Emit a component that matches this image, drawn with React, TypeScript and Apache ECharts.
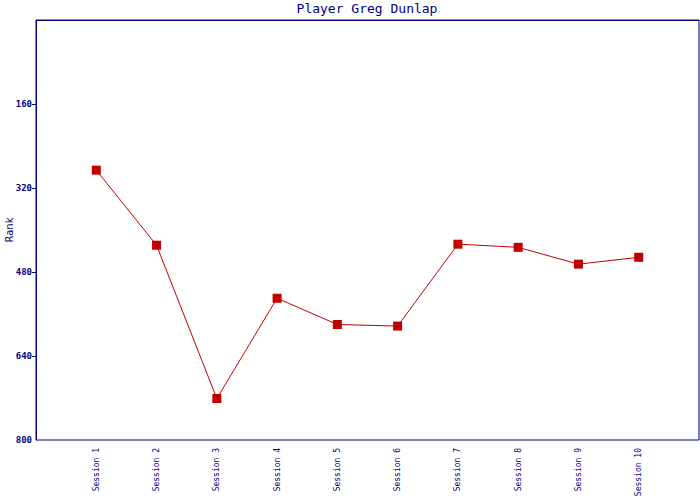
import React, { useEffect, useRef } from "react";
import * as echarts from "echarts";

const sessions = ["Session 1", "Session 2", "Session 3", "Session 4", "Session 5", "Session 6", "Session 7", "Session 8", "Session 9", "Session 10"];
const ranks = [286, 429, 721, 530, 580, 583, 427, 433, 465, 452];
const tickValues = [160, 320, 480, 640];
const labelValues = [160, 320, 480, 640, 800];
const titleText = "Player Greg Dunlap";
const yName = "Rank";

const NAVY = "#000080";

export default function App() {
  const ref = useRef<HTMLDivElement>(null);
  useEffect(() => {
    document.body.style.margin = "0";
    const chart = echarts.init(ref.current!, null, { renderer: "svg" });
    const cats = ["", ...sessions, ""];
    const data = [null, ...ranks, null];
    chart.setOption({
      animation: false,
      backgroundColor: "#ffffff",
      title: {
        text: titleText,
        left: 367,
        top: 2,
        padding: 0,
        textAlign: "center",
        textStyle: { fontFamily: "DejaVu Sans Mono", fontSize: 13, fontWeight: "normal", color: NAVY },
      },
      grid: {
        left: 36, top: 20, right: 1, bottom: 60,
        show: true, borderColor: NAVY, borderWidth: 1, backgroundColor: "transparent",
        containLabel: false, outerBoundsMode: "none",
      },
      xAxis: {
        type: "category",
        data: cats,
        boundaryGap: false,
        axisLine: { lineStyle: { color: NAVY, width: 1 } },
        axisTick: { show: false },
        splitLine: { show: false },
        axisLabel: {
          rotate: 90,
          interval: 0,
          margin: 8,
          color: NAVY,
          fontFamily: "DejaVu Sans Mono",
          fontSize: 8,
        },
      },
      yAxis: {
        type: "value",
        inverse: true,
        min: 0,
        max: 800,
        interval: 160,
        name: yName,
        nameLocation: "middle",
        nameGap: 22,
        nameMoveOverlap: false,
        nameTextStyle: { color: NAVY, fontFamily: "DejaVu Sans", fontSize: 10 },
        axisLine: { show: true, lineStyle: { color: NAVY, width: 1 } },
        axisTick: { show: true, length: 4, lineStyle: { color: NAVY }, customValues: tickValues },
        splitLine: { show: false },
        axisLabel: {
          margin: 4,
          color: NAVY,
          fontFamily: "DejaVu Sans Mono",
          fontSize: 9,
          fontWeight: "bold",
          customValues: labelValues,
          formatter: (v: number) => String(v),
        },
      },
      series: [
        {
          type: "line",
          data,
          connectNulls: false,
          symbol: "rect",
          symbolSize: 9,
          itemStyle: { color: "#c00000" },
          lineStyle: { color: "#c00000", width: 1 },
        },
      ],
    });
    return () => chart.dispose();
  }, []);
  return <div ref={ref} style={{ width: 700, height: 500 }} />;
}
